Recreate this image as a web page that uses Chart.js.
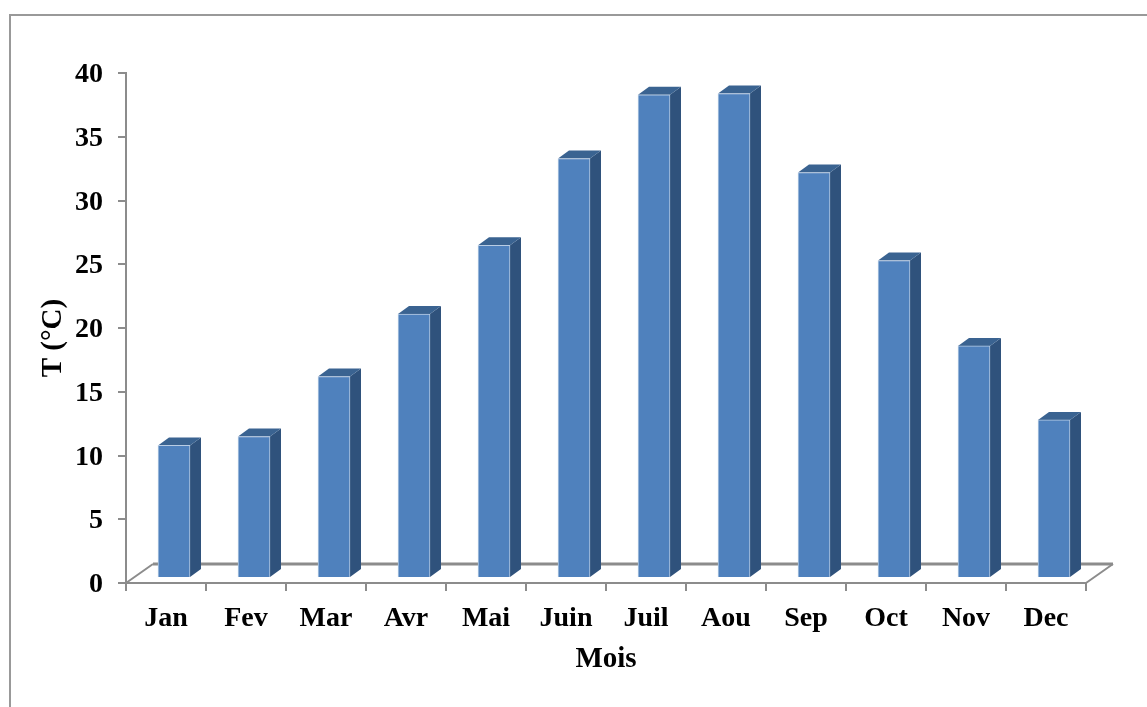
<!DOCTYPE html>
<html>
<head>
<meta charset="utf-8">
<script src="https://cdn.jsdelivr.net/npm/chart.js@4"></script>
<style>
  html, body { margin: 0; padding: 0; background: #fff; }
  #box { position: relative; width: 1147px; height: 707px; }
</style>
</head>
<body>
<div id="box"><canvas id="myChart"></canvas></div>
<script>
const months = ['Jan', 'Fev', 'Mar', 'Avr', 'Mai', 'Juin', 'Juil', 'Aou', 'Sep', 'Oct', 'Nov', 'Dec'];
const temperatures = [10.4, 11.1, 15.8, 20.7, 26.1, 32.9, 37.9, 38.0, 31.8, 24.9, 18.2, 12.4];

const grey = '#8c8c8c';
const serif = 'Liberation Serif';

// fake 3D: floor offset, bars sit a bit inside the floor
const depthX = 11, depthY = 8;
const floorX = 27, floorY = 19;
const barShiftX = 8, barShiftY = -5;

// move what a scale draws, the options have no setting for it
function nudge(scale, method, dy) {
  const draw = scale[method];
  scale[method] = function (...args) {
    scale.ctx.save();
    scale.ctx.translate(0, dy);
    draw.apply(scale, args);
    scale.ctx.restore();
  };
}

let nudged = false;

const fake3d = {
  id: 'fake3d',
  beforeDraw(chart) {
    if (!nudged) {
      nudge(chart.scales.y, 'drawLabels', 2);
      nudge(chart.scales.y, 'drawTitle', 10);
      nudged = true;
    }
    // outer frame
    const c = chart.ctx;
    c.save();
    c.strokeStyle = '#999999';
    c.lineWidth = 2;
    c.beginPath();
    c.moveTo(10, 707);
    c.lineTo(10, 15);
    c.lineTo(1147, 15);
    c.stroke();
    c.restore();
  },
  beforeDatasetsDraw(chart) {
    const c = chart.ctx, a = chart.chartArea;
    c.save();
    c.strokeStyle = grey;
    c.lineWidth = 2;
    c.beginPath();
    c.moveTo(a.left, a.bottom);
    c.lineTo(a.left + floorX, a.bottom - floorY);
    c.moveTo(a.right + floorX, a.bottom - floorY);
    c.lineTo(a.right, a.bottom);
    c.stroke();
    c.lineWidth = 3;
    c.beginPath();
    c.moveTo(a.left + floorX, a.bottom - floorY);
    c.lineTo(a.right + floorX, a.bottom - floorY);
    c.stroke();
    c.restore();
  },
  beforeDatasetDraw(chart, args) {
    const c = chart.ctx;
    c.save();
    c.translate(barShiftX, barShiftY);
    args.meta.data.forEach(bar => {
      const p = bar.getProps(['x', 'y', 'base', 'width'], true);
      const l = p.x - p.width / 2, r = p.x + p.width / 2;
      // side face
      c.fillStyle = '#2f527c';
      c.beginPath();
      c.moveTo(r, p.y);
      c.lineTo(r + depthX, p.y - depthY);
      c.lineTo(r + depthX, p.base - depthY);
      c.lineTo(r, p.base);
      c.closePath();
      c.fill();
      // top face
      c.fillStyle = '#3a6391';
      c.beginPath();
      c.moveTo(l, p.y);
      c.lineTo(l + depthX, p.y - depthY);
      c.lineTo(r + depthX, p.y - depthY);
      c.lineTo(r, p.y);
      c.closePath();
      c.fill();
    });
  },
  afterDatasetDraw(chart) {
    chart.ctx.restore();
  }
};

const config = {
  type: 'bar',
  data: {
    labels: months,
    datasets: [{
      data: temperatures,
      backgroundColor: '#4f81bd',
      borderColor: '#b8cce4',
      borderWidth: 1,
      barThickness: 32,
      clip: false
    }]
  },
  options: {
    responsive: true,
    maintainAspectRatio: false,
    animation: false,
    layout: { padding: { top: 73, right: 61, bottom: 30, left: 36 } },
    plugins: { legend: { display: false }, tooltip: { enabled: false } },
    scales: {
      x: {
        offset: true,
        afterFit(s) { s.height = 94; },
        grid: { drawOnChartArea: false, color: grey, lineWidth: 2, tickLength: 8 },
        border: { color: grey, width: 2 },
        ticks: { color: '#000', padding: 11, maxRotation: 0, font: { family: serif, size: 28, weight: 'bold' } },
        title: {
          display: true,
          text: 'Mois',
          color: '#000',
          padding: { top: 0, bottom: 0 },
          font: { family: serif, size: 29, weight: 'bold' }
        }
      },
      y: {
        min: 0,
        max: 40,
        afterFit(s) { s.width = 90; },
        grid: { drawOnChartArea: false, color: grey, lineWidth: 2, tickLength: 8 },
        border: { color: grey, width: 2 },
        ticks: { stepSize: 5, color: '#000', padding: 15, font: { family: serif, size: 28, weight: 'bold' } },
        title: {
          display: true,
          text: 'T (°C)',
          color: '#000',
          padding: { top: 0, bottom: 0 },
          font: { family: serif, size: 29, weight: 'bold' }
        }
      }
    }
  },
  plugins: [fake3d]
};

const myChart = new Chart(document.getElementById('myChart'), config);
</script>
</body>
</html>
